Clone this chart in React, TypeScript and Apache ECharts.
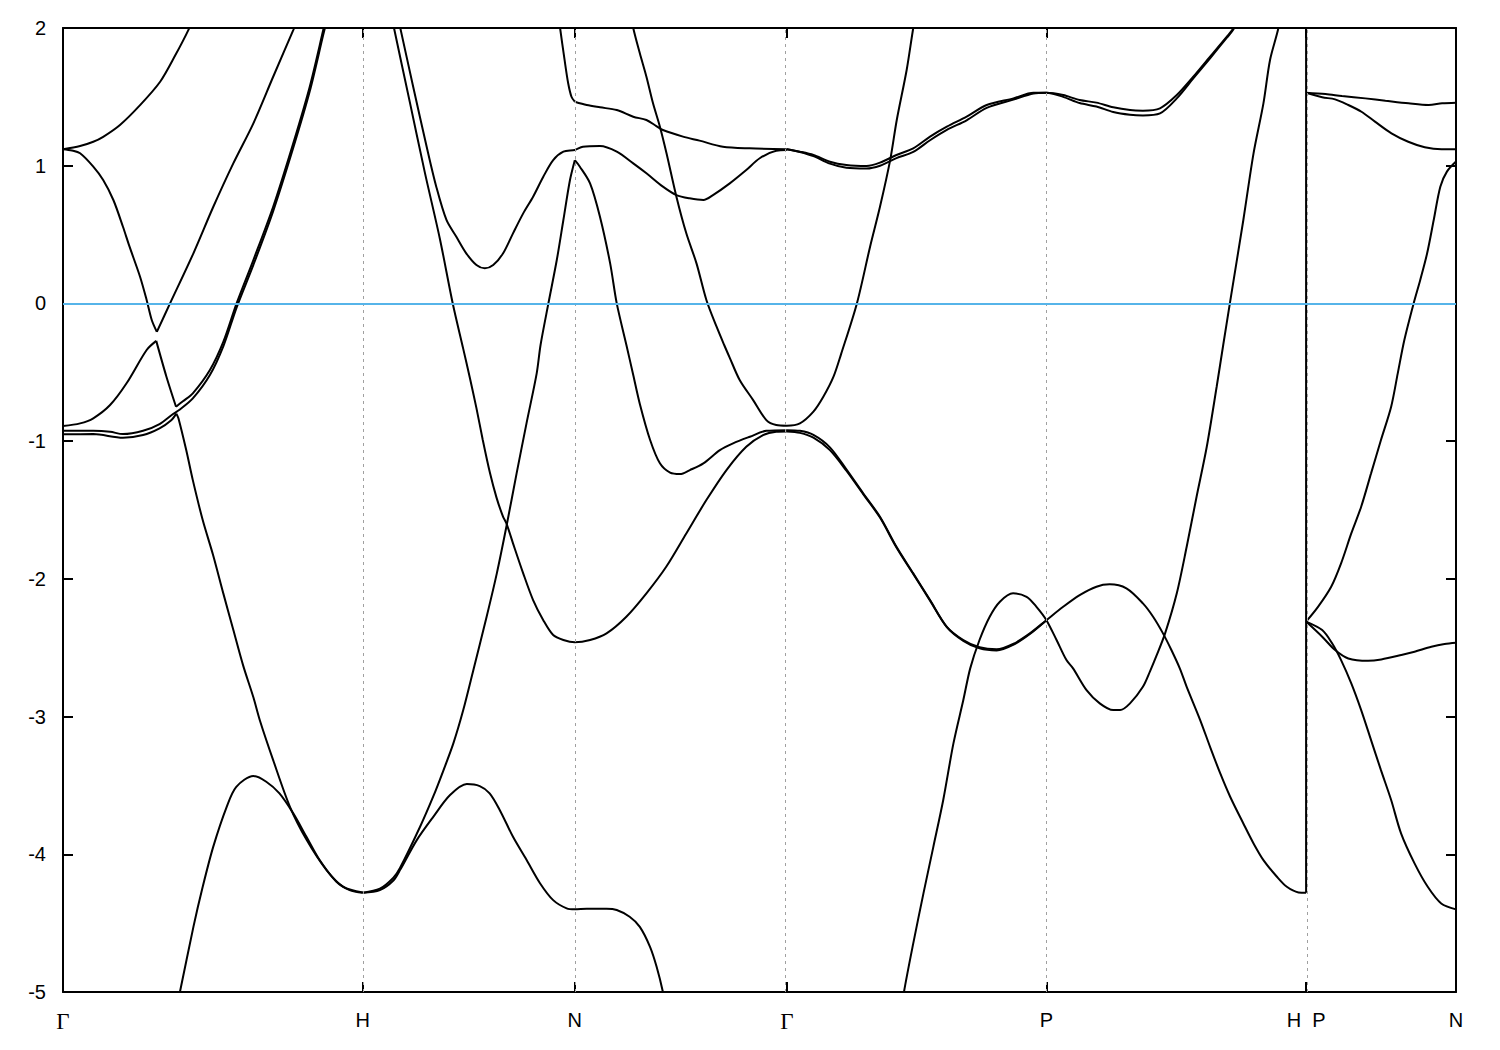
import { useEffect, useRef } from 'react';
import * as echarts from 'echarts';

// k-path positions (bcc: Γ-H-N-Γ-P-H|P-N)
const kTicks = [0, 1, 1.7071, 2.4142, 3.2802, 4.1463, 4.6463];
const kLabels = ['Γ', 'H', 'N', 'Γ', 'P', 'H  P', 'N'];
const kGridLines = [1, 1.7071, 2.4142, 3.2802, 4.1463];
const energyMin = -5;
const energyMax = 2;
const fermiLevel = 0;

// ---- Γ–H ----
const ghA1 = [[0,1.12],[0.057,1.143],[0.101,1.174],[0.134,1.21],[0.19,1.296],[0.257,1.44],[0.324,1.61],[0.374,1.8],[0.418,1.985],[0.44,2.1]];
const ghA2Down = [[0,1.12],[0.03,1.11],[0.057,1.09],[0.101,0.993],[0.134,0.896],[0.168,0.751],[0.2,0.557],[0.222,0.412],[0.257,0.194],[0.279,0.025],[0.296,-0.12],[0.313,-0.206]];
const ghA2Up = [[0.313,-0.206],[0.357,0.0],[0.435,0.364],[0.501,0.7],[0.568,1.017],[0.635,1.308],[0.701,1.646],[0.768,1.985],[0.79,2.1]];
const ghB1 = [[0,-0.89],[0.057,-0.871],[0.101,-0.834],[0.157,-0.738],[0.212,-0.58],[0.279,-0.338],[0.311,-0.272]];
const ghB2 = [[0.311,-0.272],[0.345,-0.532],[0.377,-0.75]];
const ghB3 = [[0.377,-0.75],[0.4,-0.71],[0.433,-0.653],[0.49,-0.484],[0.535,-0.278],[0.579,0.0],[0.635,0.315],[0.701,0.702],[0.768,1.163],[0.823,1.574],[0.868,1.985],[0.88,2.1]];
const ghC1 = [[0,-0.925],[0.101,-0.925],[0.157,-0.932],[0.2,-0.949],[0.267,-0.925],[0.322,-0.876],[0.367,-0.803],[0.39,-0.77],[0.433,-0.69],[0.49,-0.52],[0.535,-0.31],[0.579,-0.03],[0.635,0.28],[0.701,0.67],[0.768,1.13],[0.823,1.54],[0.868,1.95],[0.885,2.1]];
const ghC2a = [[0,-0.95],[0.101,-0.949],[0.2,-0.975],[0.267,-0.956],[0.322,-0.907],[0.36,-0.85],[0.378,-0.8]];
const ghC2b = [[0.378,-0.8],[0.385,-0.834],[0.411,-1.065],[0.433,-1.283],[0.466,-1.573],[0.501,-1.83],[0.534,-2.1],[0.568,-2.37],[0.601,-2.63],[0.635,-2.86],[0.657,-3.03],[0.701,-3.316],[0.757,-3.655],[0.813,-3.897],[0.879,-4.115],[0.935,-4.236],[1,-4.277]];
const ghHump = [[0.38,-5.1],[0.39,-5.0],[0.435,-4.527],[0.466,-4.236],[0.501,-3.946],[0.546,-3.655],[0.578,-3.51],[0.635,-3.432],[0.678,-3.473],[0.722,-3.558],[0.768,-3.703],[0.812,-3.873],[0.856,-4.042],[0.912,-4.2],[0.956,-4.26],[1,-4.28]];

// ---- H–N ----
const hnF = [[1,-4.28],[1.057,-4.25],[1.102,-4.17],[1.124,-4.1],[1.191,-3.8],[1.235,-3.58],[1.269,-3.39],[1.302,-3.195],[1.335,-2.953],[1.369,-2.66],[1.413,-2.275],[1.447,-1.96],[1.48,-1.609],[1.513,-1.234],[1.546,-0.871],[1.58,-0.508],[1.593,-0.3],[1.619,0.0],[1.647,0.315],[1.669,0.606],[1.691,0.896],[1.7071,1.04]];
const hnHump = [[1,-4.28],[1.057,-4.26],[1.102,-4.19],[1.124,-4.115],[1.18,-3.897],[1.235,-3.728],[1.291,-3.57],[1.347,-3.49],[1.39,-3.505],[1.423,-3.558],[1.457,-3.68],[1.501,-3.873],[1.546,-4.04],[1.591,-4.21],[1.635,-4.333],[1.68,-4.393],[1.7071,-4.4],[1.747,-4.396],[1.813,-4.396],[1.847,-4.405],[1.89,-4.454],[1.924,-4.527],[1.958,-4.672],[1.98,-4.817],[2.001,-5.0],[2.008,-5.1]];
const hnE1 = [[1.095,2.1],[1.104,2.0],[1.157,1.46],[1.207,0.95],[1.257,0.47],[1.3,0.0],[1.335,-0.33],[1.357,-0.54],[1.379,-0.76],[1.4,-0.99],[1.424,-1.23],[1.446,-1.41],[1.468,-1.55],[1.479,-1.597],[1.501,-1.742],[1.535,-1.96],[1.568,-2.154],[1.602,-2.3],[1.635,-2.408],[1.669,-2.444],[1.7071,-2.461],[1.758,-2.444],[1.813,-2.396],[1.879,-2.275],[1.946,-2.105],[2.012,-1.912],[2.079,-1.67],[2.146,-1.428],[2.213,-1.21],[2.279,-1.041],[2.335,-0.956],[2.379,-0.932],[2.4142,-0.93]];
const hnE2 = [[1.115,2.1],[1.124,2.01],[1.168,1.574],[1.213,1.138],[1.245,0.848],[1.279,0.606],[1.312,0.484],[1.345,0.364],[1.379,0.279],[1.407,0.255],[1.435,0.279],[1.468,0.364],[1.501,0.509],[1.535,0.654],[1.568,0.775],[1.602,0.92],[1.635,1.041],[1.669,1.102],[1.7071,1.114],[1.734,1.138],[1.791,1.143],[1.847,1.102],[1.902,1.017],[1.946,0.945],[2.001,0.848],[2.046,0.787],[2.09,0.763],[2.136,0.751],[2.168,0.787],[2.224,0.872],[2.279,0.969],[2.324,1.054],[2.379,1.109],[2.4142,1.114]];
const nTop = [[1.653,2.1],[1.658,2.0],[1.673,1.768],[1.685,1.599],[1.696,1.501],[1.7071,1.465]];

// ---- N–Γ ----
const ngF = [[1.7071,1.04],[1.724,0.993],[1.758,0.872],[1.791,0.63],[1.825,0.291],[1.847,0.0],[1.879,-0.3],[1.902,-0.52],[1.924,-0.73],[1.958,-0.99],[1.991,-1.161],[2.025,-1.229],[2.058,-1.239],[2.091,-1.21],[2.136,-1.161],[2.191,-1.065],[2.235,-1.016],[2.291,-0.968],[2.346,-0.925],[2.4142,-0.92]];
const ngUpper = [[1.7071,1.465],[1.747,1.441],[1.791,1.424],[1.847,1.404],[1.902,1.356],[1.946,1.332],[1.979,1.288],[2.001,1.259],[2.068,1.211],[2.123,1.182],[2.201,1.138],[2.29,1.126],[2.4142,1.12]];
const ngParabola = [[1.895,2.1],[1.902,2.0],[1.924,1.816],[1.946,1.646],[1.968,1.453],[1.991,1.283],[2.013,1.09],[2.046,0.775],[2.079,0.509],[2.113,0.291],[2.146,0.025],[2.18,-0.169],[2.205,-0.3],[2.224,-0.395],[2.257,-0.556],[2.302,-0.702],[2.346,-0.847],[2.379,-0.883],[2.4142,-0.888],[2.458,-0.871],[2.503,-0.786],[2.536,-0.678],[2.57,-0.532],[2.595,-0.37],[2.648,0.0],[2.692,0.412],[2.725,0.702],[2.759,1.041],[2.781,1.332],[2.814,1.695],[2.836,2.0],[2.845,2.1]];

// ---- Γ–P–H ----
const gpPair1 = [[2.4142,-0.92],[2.458,-0.925],[2.503,-0.955],[2.558,-1.045],[2.613,-1.205],[2.669,-1.379],[2.725,-1.549],[2.78,-1.767],[2.836,-1.96],[2.892,-2.154],[2.948,-2.348],[3.003,-2.444],[3.057,-2.497],[3.114,-2.512],[3.169,-2.473],[3.225,-2.396],[3.2802,-2.3],[3.336,-2.203],[3.391,-2.118],[3.447,-2.057],[3.491,-2.04],[3.547,-2.069],[3.602,-2.178],[3.636,-2.275],[3.669,-2.396],[3.697,-2.517],[3.725,-2.65],[3.748,-2.784],[3.793,-3.025],[3.826,-3.22],[3.86,-3.413],[3.893,-3.582],[3.937,-3.776],[3.971,-3.921],[4.004,-4.042],[4.049,-4.163],[4.082,-4.236],[4.121,-4.277],[4.1463,-4.28]];
const gpPair2 = [[2.4142,-0.93],[2.458,-0.94],[2.503,-0.975],[2.558,-1.065],[2.613,-1.215],[2.669,-1.385],[2.725,-1.555],[2.78,-1.772],[2.836,-1.965],[2.892,-2.158],[2.948,-2.35],[3.003,-2.45],[3.057,-2.505],[3.114,-2.52],[3.169,-2.48],[3.225,-2.4],[3.2802,-2.3]];
const gpG = [[2.8,-5.1],[2.805,-5.0],[2.836,-4.647],[2.87,-4.284],[2.903,-3.946],[2.936,-3.606],[2.97,-3.195],[3.003,-2.88],[3.026,-2.65],[3.057,-2.444],[3.091,-2.275],[3.125,-2.166],[3.169,-2.105],[3.214,-2.13],[3.247,-2.203],[3.2802,-2.3],[3.314,-2.444],[3.347,-2.59],[3.369,-2.65],[3.414,-2.808],[3.458,-2.904],[3.503,-2.953],[3.526,-2.953],[3.559,-2.904],[3.602,-2.784],[3.626,-2.67],[3.647,-2.56],[3.676,-2.396],[3.715,-2.105],[3.748,-1.767],[3.781,-1.404],[3.815,-1.041],[3.848,-0.605],[3.87,-0.3],[3.892,0.0],[3.937,0.606],[3.971,1.09],[4.004,1.453],[4.026,1.768],[4.054,2.0],[4.07,2.2]];
const gpUpper1 = [[2.4142,1.12],[2.458,1.102],[2.503,1.078],[2.558,1.029],[2.613,1.005],[2.68,0.998],[2.725,1.022],[2.78,1.078],[2.836,1.126],[2.892,1.211],[2.948,1.283],[3.014,1.356],[3.081,1.441],[3.17,1.489],[3.237,1.53],[3.2802,1.53],[3.336,1.513],[3.391,1.477],[3.447,1.458],[3.503,1.424],[3.559,1.404],[3.602,1.4],[3.659,1.417],[3.715,1.513],[3.77,1.646],[3.826,1.792],[3.882,1.937],[3.904,2.0],[3.92,2.1]];
const gpUpper2 = [[2.4142,1.12],[2.458,1.1],[2.503,1.07],[2.558,1.015],[2.613,0.985],[2.68,0.98],[2.725,1.0],[2.78,1.055],[2.836,1.1],[2.892,1.185],[2.948,1.26],[3.014,1.33],[3.081,1.42],[3.17,1.48],[3.237,1.525],[3.2802,1.53],[3.336,1.5],[3.391,1.455],[3.447,1.43],[3.503,1.39],[3.559,1.37],[3.602,1.365],[3.659,1.38],[3.715,1.489],[3.77,1.634],[3.826,1.78],[3.882,1.93],[3.904,1.99],[3.925,2.1]];
const hpJump = [[4.1463,-4.28],[4.1463,2.2]];

// ---- P–N ----
const pnTop = [[4.1463,1.53],[4.211,1.52],[4.266,1.506],[4.344,1.489],[4.411,1.472],[4.488,1.453],[4.555,1.441],[4.6,1.453],[4.6463,1.458]];
const pnSecond = [[4.1463,1.53],[4.2,1.497],[4.243,1.482],[4.287,1.441],[4.331,1.392],[4.376,1.32],[4.431,1.235],[4.487,1.174],[4.542,1.134],[4.598,1.119],[4.6463,1.119]];
const pnRise = [[4.1463,-2.31],[4.186,-2.203],[4.23,-2.057],[4.263,-1.887],[4.297,-1.67],[4.33,-1.476],[4.363,-1.234],[4.396,-0.992],[4.43,-0.75],[4.452,-0.508],[4.474,-0.266],[4.505,0.0],[4.527,0.17],[4.55,0.364],[4.572,0.606],[4.594,0.848],[4.616,0.957],[4.6463,1.03]];
const pnMid = [[4.1463,-2.31],[4.2,-2.42],[4.243,-2.517],[4.287,-2.578],[4.353,-2.595],[4.397,-2.585],[4.464,-2.553],[4.508,-2.529],[4.564,-2.493],[4.608,-2.473],[4.6463,-2.464]];
const pnDown = [[4.1463,-2.31],[4.2,-2.372],[4.233,-2.468],[4.263,-2.59],[4.297,-2.759],[4.33,-2.953],[4.363,-3.171],[4.396,-3.389],[4.43,-3.606],[4.463,-3.848],[4.508,-4.066],[4.552,-4.236],[4.597,-4.357],[4.6463,-4.4]];

const bands = [
  ghA1, ghA2Down, ghA2Up, ghB1, ghB2, ghB3, ghC1, ghC2a, ghC2b, ghHump,
  hnF, hnHump, hnE1, hnE2, nTop,
  ngF, ngUpper, ngParabola,
  gpPair1, gpPair2, gpG, gpUpper1, gpUpper2, hpJump,
  pnTop, pnSecond, pnRise, pnMid, pnDown,
];

const FONT = '"Liberation Sans", Arial, sans-serif';

function labelFor(v: number) {
  const i = kTicks.findIndex((p) => Math.abs(p - v) < 1e-3);
  if (i < 0) return '';
  const t = kLabels[i];
  return t === 'Γ' ? '{g|Γ}' : t;
}

export default function App() {
  const ref = useRef<HTMLDivElement>(null);
  useEffect(() => {
    const chart = echarts.init(ref.current!, null, { renderer: 'svg' });
    const axisLineStyle = { color: '#000', width: 2 };
    const option: any = {
      animation: false,
      backgroundColor: '#fff',
      grid: { left: 63, right: 44, top: 28, bottom: 58 },
      xAxis: [
        {
          type: 'value', min: kTicks[0], max: kTicks[kTicks.length - 1], position: 'bottom',
          axisLine: { show: true, onZero: false, lineStyle: axisLineStyle },
          axisTick: { show: true, inside: true, length: 10, customValues: kTicks, lineStyle: axisLineStyle },
          axisLabel: {
            customValues: kTicks, formatter: labelFor, margin: 18, fontSize: 20, color: '#000', fontFamily: FONT,
            rich: { g: { fontFamily: '"Liberation Serif", "DejaVu Serif", serif', fontSize: 23, color: '#000', padding: [0, 0, 3, 0] } },
          },
          splitLine: { show: false },
        },
        {
          type: 'value', min: kTicks[0], max: kTicks[kTicks.length - 1], position: 'top',
          axisLine: { show: true, onZero: false, lineStyle: axisLineStyle },
          axisTick: { show: true, inside: true, length: 10, customValues: kTicks, lineStyle: axisLineStyle },
          axisLabel: { show: false },
          splitLine: { show: false },
        },
      ],
      yAxis: [
        {
          type: 'value', min: energyMin, max: energyMax, interval: 1, position: 'left',
          axisLine: { show: true, onZero: false, lineStyle: axisLineStyle },
          axisTick: { show: true, inside: true, length: 10, lineStyle: axisLineStyle },
          axisLabel: { margin: 17, fontSize: 20, color: '#000', fontFamily: FONT },
          splitLine: { show: false },
        },
        {
          type: 'value', min: energyMin, max: energyMax, interval: 1, position: 'right',
          axisLine: { show: true, onZero: false, lineStyle: axisLineStyle },
          axisTick: { show: true, inside: true, length: 10, lineStyle: axisLineStyle },
          axisLabel: { show: false },
          splitLine: { show: false },
        },
      ],
      series: [
        {
          type: 'line', data: [], silent: true, z: 1,
          markLine: {
            silent: true, symbol: ['none', 'none'], animation: false, label: { show: false },
            data: [
              ...kGridLines.map((k) => ({ xAxis: k, lineStyle: { color: '#a0a0a0', width: 1, type: [3, 4] } })),
              { yAxis: fermiLevel, lineStyle: { color: '#56b4e9', width: 2, type: 'solid' } },
            ],
          },
        },
        ...bands.map((d) => ({
          type: 'line', data: d, showSymbol: false, symbol: 'none', smooth: 0.3, silent: true, z: 3, clip: true,
          lineStyle: { color: '#000', width: 2 },
        })),
      ],
    };
    chart.setOption(option);
    return () => chart.dispose();
  }, []);
  return <div ref={ref} style={{ position: 'fixed', left: 0, top: 0, width: 1500, height: 1050, background: '#fff' }} />;
}
